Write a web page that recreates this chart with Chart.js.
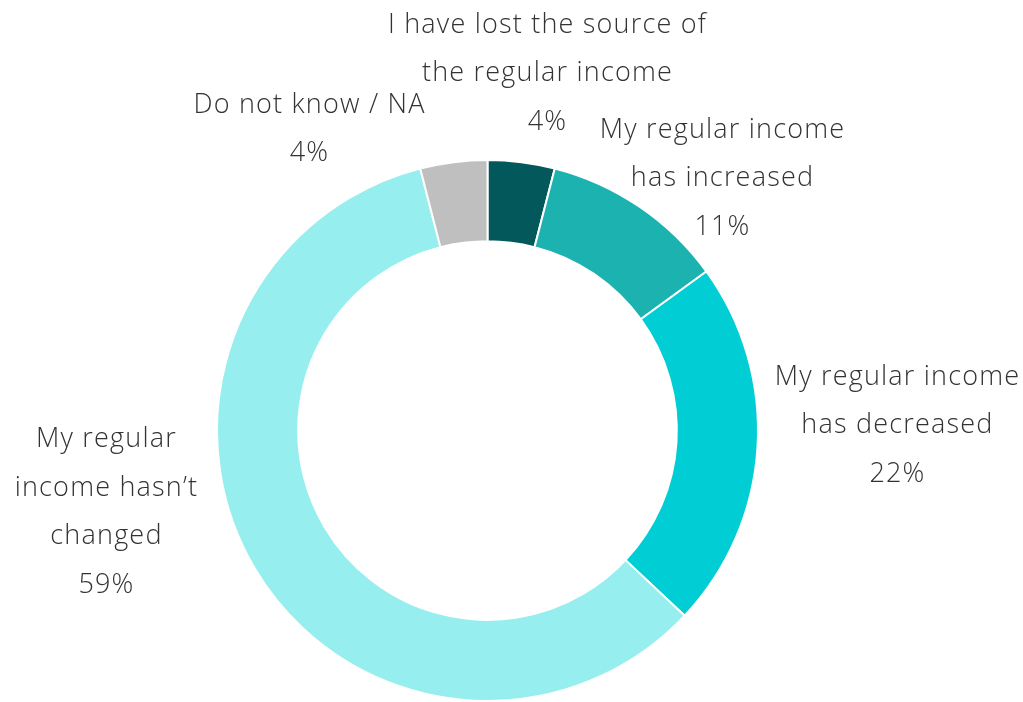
<!DOCTYPE html>
<html lang="en">

<head>
    <meta charset="UTF-8">
    <title>Regular income</title>
    <script src="https://cdn.jsdelivr.net/npm/chart.js"></script>
    <style>
        body {
            margin: 0;
            background-color: #ffffff;
        }

        #wrap {
            width: 1023px;
            height: 702px;
        }
    </style>
</head>

<body>
    <div id="wrap">
        <canvas id="incomeChart" width="1023" height="702"></canvas>
    </div>

    <script type="text/javascript">

        // answers, clockwise from 12 o'clock
        const categories = [
            ['I have lost the source of', 'the regular income'],
            ['My regular income', 'has increased'],
            ['My regular income', 'has decreased'],
            ['My regular', 'income hasn\u2019t', 'changed'],
            ['Do not know / NA']
        ];
        const shares = [4, 11, 22, 59, 4];
        const sliceColors = ['#02585a', '#1cb2b0', '#00ced4', '#96eeee', '#bfbfbf'];

        // where each label block sits, relative to the centre of the ring (px)
        const labelOffsets = [
            [60, -357],
            [235, -252],
            [410, -5],
            [-381, 82],
            [-178, -301]
        ];

        // writes each category name and its share outside the ring
        var outsideLabels = {
            id: 'outsideLabels',
            afterDatasetsDraw(chart) {
                var ctx = chart.ctx;
                var arcs = chart.getDatasetMeta(0).data;
                var lineHeight = 48.5;
                ctx.save();
                ctx.font = '300 27px "Open Sans", sans-serif';
                ctx.letterSpacing = '1.2px';
                ctx.fillStyle = '#333333';
                ctx.textAlign = 'center';
                ctx.textBaseline = 'middle';
                arcs.forEach(function (arc, i) {
                    var lines = categories[i].concat([shares[i] + '%']);
                    var cx = arc.x + labelOffsets[i][0];
                    var cy = arc.y + labelOffsets[i][1];
                    lines.forEach(function (line, j) {
                        ctx.fillText(line, cx, cy + (j - (lines.length - 1) / 2) * lineHeight);
                    });
                });
                ctx.restore();
            }
        };

        var ctx = document.getElementById('incomeChart').getContext('2d');
        var incomeChart = new Chart(ctx, {
            type: 'doughnut',
            data: {
                labels: categories,
                datasets: [{
                    data: shares,
                    backgroundColor: sliceColors,
                    borderColor: '#ffffff',
                    borderWidth: 2
                }]
            },
            options: {
                responsive: false,
                animation: false,
                cutout: '70%',
                layout: {
                    padding: { left: 216, right: 264, top: 159, bottom: 0 }
                },
                plugins: {
                    legend: { display: false },
                    tooltip: { enabled: false }
                }
            },
            plugins: [outsideLabels]
        });
    </script>
</body>

</html>
